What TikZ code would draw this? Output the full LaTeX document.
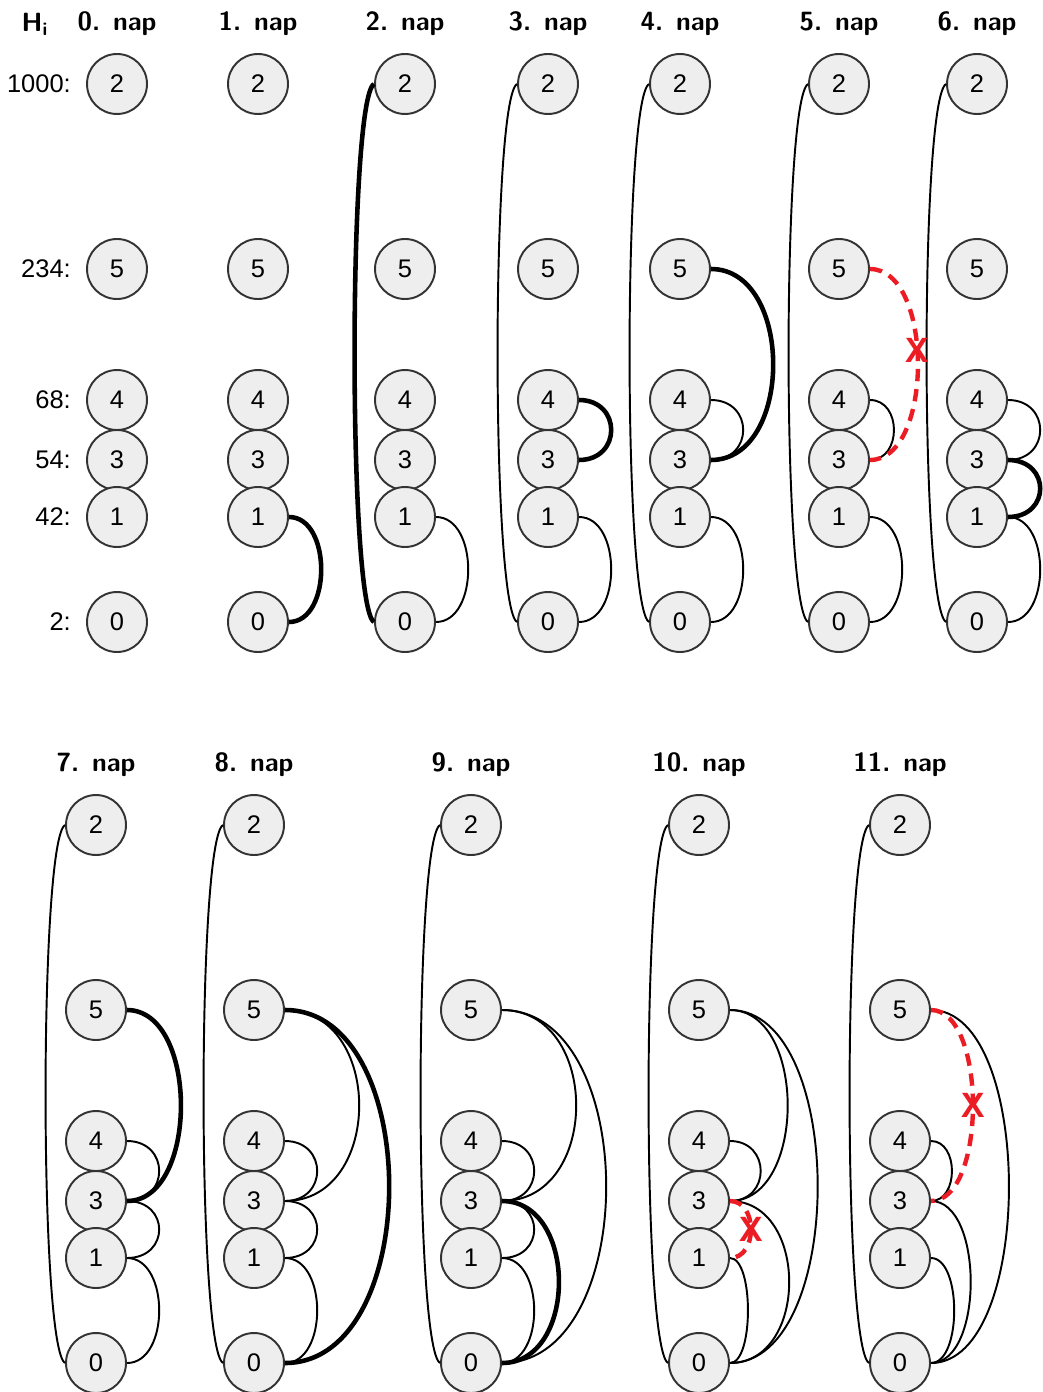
\documentclass[tikz,border=0pt]{standalone}
\usepackage{fontspec}
\setmainfont{Liberation Sans}
\definecolor{nodefill}{HTML}{EEEEEE}
\definecolor{nodeline}{HTML}{333333}
\definecolor{cutred}{RGB}{236,28,36}

\begin{document}
\begin{tikzpicture}[x=0.02cm,y=-0.02cm,
  vert/.style={circle,draw=nodeline,fill=nodefill,line width=1.1pt,minimum size=1.2cm,inner sep=0pt,font=\fontsize{14.5}{17}\selectfont},
  daylab/.style={font=\fontsize{15}{18}\selectfont\sffamily\bfseries},
  hlab/.style={anchor=east,font=\fontsize{14.5}{17}\selectfont},
  ed/.style={line width=1.1pt},
  hot/.style={line width=2.6pt},
  cut/.style={draw=cutred,line width=2.5pt,dash pattern=on 7pt off 4.5pt},
  xm/.style={text=cutred,font=\fontsize{20}{22}\selectfont\bfseries,inner sep=0pt},
  rside/.style={out=0,in=0,distance=#1},
  lside/.style={out=210,in=150,distance=0.6cm}]
  \useasboundingbox (0,0) rectangle (1043,1392);

  % row heights
  \node[daylab] (hi) at (35,24) {H\textsubscript{i}};
  \foreach \w/\hy in {1000/84,234/269,68/400,54/460,42/517,2/622}
    \node[hlab] (h\w) at (77,\hy) {\w:};

  % days
  \foreach \col/\x/\y in {0/117/0,1/258/0,2/405/0,3/548/0,4/680/0,5/839/0,6/977/0,
                          7/96/741,8/254/741,9/471/741,10/699/741,11/900/741} {
    \node[daylab] (t\col) at (\x,24+\y) {\col. nap};
    \foreach \vx/\hy in {2/84,5/269,4/400,3/460,1/517,0/622}
      \node[vert] (n\col-\vx) at (\x,\hy+\y) {\vx};
  }

  % edges kept from earlier days
  \foreach \col in {3,...,11}
    \draw[ed] (n\col-2.west) to[lside] (n\col-0.west);
  \foreach \col in {2,...,9}
    \draw[ed] (n\col-1) to[rside=0.86cm] (n\col-0);
  \foreach \col in {4,6,7,8,9}
    \draw[ed] (n\col-4) to[rside=0.86cm] (n\col-3);
  \foreach \col in {7,8,9}
    \draw[ed] (n\col-3) to[rside=0.86cm] (n\col-1);

  % 1.-4. nap
  \draw[hot] (n1-1) to[rside=0.86cm] (n1-0);
  \draw[hot] (n2-2.west) to[lside] (n2-0.west);
  \draw[hot] (n3-4) to[rside=0.86cm] (n3-3);
  \draw[hot] (n4-5) to[rside=1.66cm] (n4-3);
  % 5. nap
  \draw[ed] (n5-4) to[rside=0.64cm] (n5-3);
  \draw[cut] (n5-5) to[rside=1.28cm] node[xm,pos=0.45] (x5) {X} (n5-3);
  % 6. nap
  \draw[hot] (n6-3) to[rside=0.86cm] (n6-1);
  % 7.-9. nap
  \draw[hot] (n7-5) to[rside=1.44cm] (n7-3);
  \draw[ed] (n8-5) to[rside=1.98cm] (n8-3);
  \draw[hot] (n8-5) to[rside=2.78cm] (n8-0);
  \draw[ed] (n9-5) to[rside=1.98cm] (n9-3);
  \draw[ed] (n9-5) to[rside=2.78cm] (n9-0);
  \draw[hot] (n9-3) to[rside=1.52cm] (n9-0);
  % 10. nap
  \draw[ed] (n10-4) to[rside=0.82cm] (n10-3);
  \draw[ed] (n10-5) to[rside=1.54cm] (n10-3);
  \draw[ed] (n10-5) to[rside=2.34cm] (n10-0);
  \draw[ed] (n10-3) to[rside=1.58cm] (n10-0);
  \draw[ed] (n10-1) to[rside=0.48cm] (n10-0);
  \draw[cut] (n10-3) to[rside=0.56cm] node[xm] (x10) {X} (n10-1);
  % 11. nap
  \draw[ed] (n11-4) to[rside=0.56cm] (n11-3);
  \draw[ed] (n11-5) to[rside=2.08cm] (n11-0);
  \draw[ed] (n11-3) to[rside=1.06cm] (n11-0);
  \draw[ed] (n11-1) to[rside=0.62cm] (n11-0);
  \draw[cut] (n11-5) to[rside=1.12cm] node[xm] (x11) {X} (n11-3);
\end{tikzpicture}
\end{document}
